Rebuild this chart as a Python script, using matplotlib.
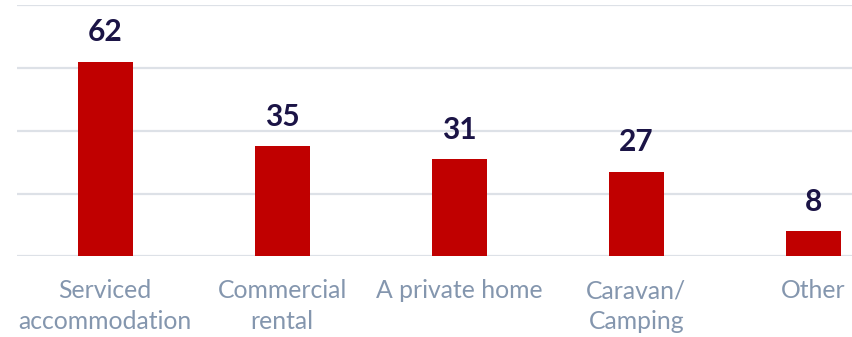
import matplotlib
matplotlib.use("Agg")
import matplotlib.pyplot as plt

categories = ["Serviced\naccommodation", "Commercial\nrental", "A private home", "Caravan/\nCamping", "Other"]
values = [62, 35, 31, 27, 8]
yticks = [0, 20, 40, 60, 80]

W, H = 853, 337
fig = plt.figure(figsize=(W / 100, H / 100), dpi=100)
left_px, right_px = 16.7, 853
bottom_px, top_px = 256.3, 5.3
ax = fig.add_axes([left_px / W, (H - bottom_px) / H, (right_px - left_px) / W, (bottom_px - top_px) / H])

x = list(range(len(categories)))
ax.bar(x, values, width=0.31, color="#C00000", zorder=3)
ax.set_xlim(-0.5, 4.5 - (902 - 853) / 177.1)
ax.set_ylim(0, 80)
ax.set_yticks(yticks)
ax.yaxis.grid(True, color="#DDE1E7", linewidth=1.6, zorder=0)
ax.set_axisbelow(True)
ax.tick_params(axis="y", left=False, labelleft=False)
ax.tick_params(axis="x", bottom=False, pad=13)
ax.set_xticks(x)
ax.set_xticklabels(categories, fontsize=17.8, color="#8496AE", family="Lato", linespacing=1.42)
for s in ax.spines.values():
    s.set_visible(False)

for xi, v in zip(x, values):
    ax.annotate(str(v), (xi, v), xytext=(0, 11), textcoords="offset points",
                ha="center", va="bottom", fontsize=21.5, fontweight="bold",
                color="#1B1446", family="Lato")

fig.savefig("out.png", dpi=100)
